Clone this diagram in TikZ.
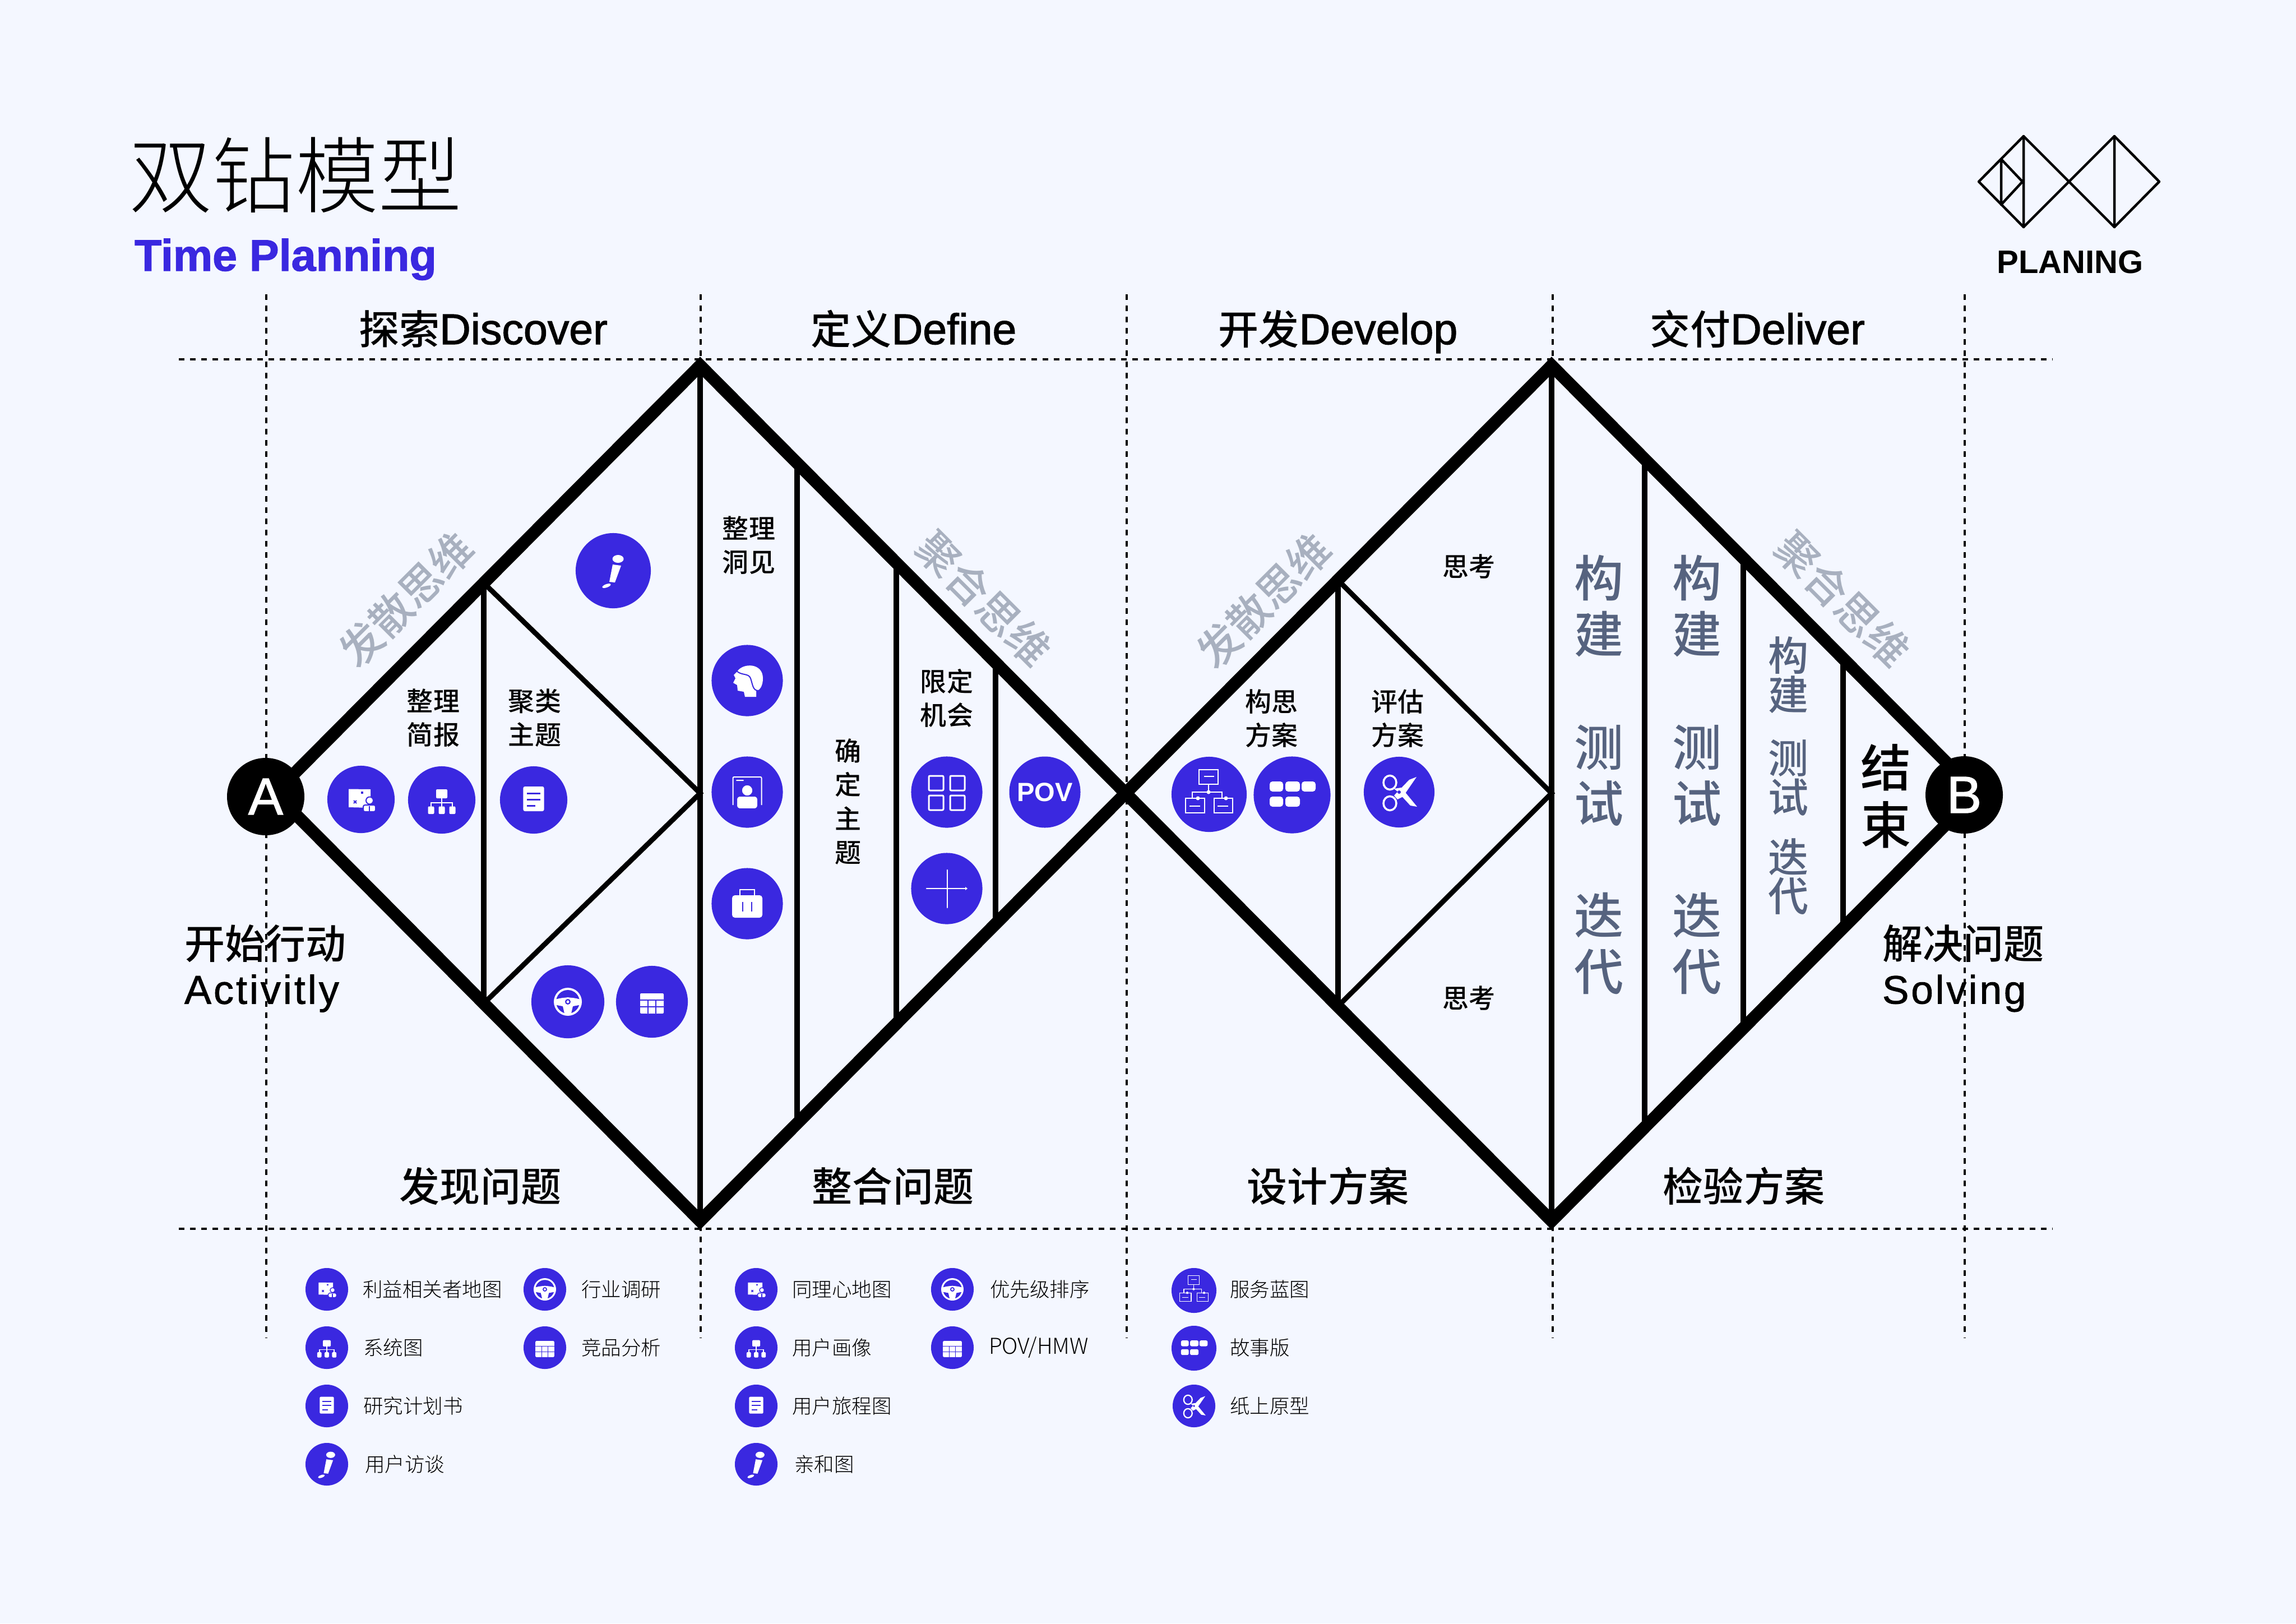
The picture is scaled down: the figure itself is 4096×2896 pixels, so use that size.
\documentclass[tikz,border=0pt]{standalone}
\usepackage{fontspec}
\setmainfont{Noto Sans CJK SC}
\IfFontExistsTF{Noto Sans CJK SC Medium}{\newfontfamily\med{Noto Sans CJK SC Medium}}{\newfontfamily\med[FakeBold=1.5]{Noto Sans CJK SC}}
\IfFontExistsTF{Noto Sans CJK SC Light}{\newfontfamily\lightf{Noto Sans CJK SC Light}}{\newfontfamily\lightf{Noto Sans CJK SC}}
\newfontfamily\lat{Liberation Sans}
\newfontfamily\latm[FakeBold=1.5]{Liberation Sans}
\newfontfamily\latw[LetterSpace=5.5,FakeBold=1.2]{Liberation Sans}
\definecolor{bgc}{HTML}{F4F7FF}
\definecolor{ic}{HTML}{3A28E0}
\definecolor{gry}{HTML}{A8B0BF}
\definecolor{slate}{HTML}{56637F}
\newcommand\fpx[2]{\pgfmathsetmacro\tmpfa{#1*0.2845}\pgfmathsetmacro\tmpfb{#2*0.2845}\fontsize{\tmpfa}{\tmpfb}\selectfont}
\def\isc{1}
\tikzset{
  x=0.01cm,y=-0.01cm,
  iw/.style={line width=#1*\isc*0.2845pt},
  rc/.style={rounded corners=#1*\isc*0.2845pt},
  thickd/.style={line width=22*0.2845pt,line join=miter,miter limit=10},
  midline/.style={line width=10*0.2845pt},
  thinline/.style={line width=9*0.2845pt},
  guide/.style={line width=4.5*0.2845pt,dash pattern=on 2.845pt off 2.845pt},
  lbl/.style={inner sep=0pt,outer sep=0pt,align=center},
  hdr/.style={lbl,font=\med\fpx{72}{80}},
  hbase/.style={hdr,anchor=base},
  smallb/.style={lbl,font=\med\fpx{47}{60}},
  bigtxt/.style={lbl,font=\med\fpx{88}{100},text=slate},
  midtxt/.style={lbl,font=\med\fpx{72}{54},text=slate},
  diverg/.style={lbl,font=\med\fpx{75}{80},text=gry},
  leg/.style={lbl,anchor=west,font=\lightf\fpx{35.5}{40}},
  circ/.style={circle,fill=ic,draw=none,inner sep=0pt,outer sep=0pt},
  badge/.style={circle,fill=black,draw=none,inner sep=0pt,outer sep=0pt,minimum size=138*0.01cm,text=white,font=\latm\fpx{93}{93}},
  logol/.style={line width=4.5*0.2845pt,line join=round,line cap=round},
  iorg/.pic={
    \fill[white,rc=2] (-10,-19) rectangle (10,-3);
    \draw[white,iw=2.6] (0,-3)--(0,13) (-19,13)--(-19,5)--(19,5)--(19,13);
    \foreach \a in {-19,0,19}{\fill[white,rc=2] (\a-5.5,11.5) rectangle (\a+5.5,25);}
  },
  idoc/.pic={
    \fill[white,rc=3] (-18.6,-24) rectangle (18.6,20);
    \draw[ic,iw=3] (-12,-12)--(12,-12) (-12,-1)--(12,-1) (-12,10)--(3,10);
  },
  imap/.pic={
    \fill[white] (-22,-18.5)--(17,-18)--(17,15)--(-22,14)--cycle;
    \draw[ic,iw=2] (-13,2)--(-8,7) (-8,2)--(-13,7);
    \fill[ic] (0,-14) rectangle (4,-10);
    \fill[white,draw=ic,iw=2,rc=3] (4,22)--(4,10)--(26,10)--(26,22)--cycle;
    \fill[white,draw=ic,iw=2] (15.5,2) circle[radius=6.5];
    \draw[ic,iw=2] (15,12)--(15,22);
  },
  imic/.pic={
    \fill[white] (8.6,-21) ellipse[x radius=10,y radius=7];
    \fill[white] (-1,-11)--(14,-9)--(3,21)--(-7,20)--cycle;
    \fill[white,rotate around={20:(-12,27)}] (-12,27) ellipse[x radius=8,y radius=3];
  },
  iwheel/.pic={
    \fill[white] (0,0) circle[radius=25];
    \fill[ic] (0,0) circle[radius=21];
    \begin{scope}
      \clip (0,0) circle[radius=22];
      \fill[white] (-25,-3) .. controls (-10,-9) and (10,-9) .. (25,-3) -- (25,5) -- (9,8) -- (5,25) -- (-5,25) -- (-9,8) -- (-25,5) -- cycle;
    \end{scope}
    \fill[white] (0,0) circle[radius=8];
    \fill[ic] (0,0) circle[radius=5];
    \fill[white] (0,0) circle[radius=2.5];
  },
  itable/.pic={
    \fill[white,rc=2] (-21,-15) rectangle (21,21);
    \draw[ic,iw=1.6] (-21,-3)--(21,-3) (-21,9)--(21,9) (-7,-3)--(-7,21) (7,-3)--(7,21);
  },
  ihead/.pic={
    \fill[white] (-18,-16) .. controls (-8,-32) and (28,-32) .. (28,-4) .. controls (28,10) and (22,18) .. (16,18) -- (16,29) -- (-4,29) -- (-6,20) -- (-17,18) -- (-18,8) -- (-25,4) -- (-21,-4) -- (-24,-10) -- cycle;
    \draw[ic,iw=2] (-20,-18) .. controls (-10,-8) and (2,-14) .. (6,-4) .. controls (10,8) and (10,18) .. (20,18);
  },
  iperson/.pic={
    \draw[white,iw=2,rc=2] (-25.5,23)--(-25.5,-27)--(25.5,-27)--(25.5,23);
    \fill[white,rc=1] (-20,-22) rectangle (-6,-20);
    \fill[white,draw=ic,iw=2,rc=6] (-19,30) rectangle (19,7);
    \fill[white,draw=ic,iw=1.5] (0,-3) circle[radius=10];
  },
  icase/.pic={
    \draw[white,iw=2.6] (-13,-14)--(-13,-25)--(13,-25)--(13,-14);
    \fill[white,rc=5] (-27,-15) rectangle (27,25);
    \draw[ic,iw=2.2] (-8,-3)--(-8,14) (8,-3)--(8,14);
  },
  igrid/.pic={
    \draw[white,iw=3,rc=2] (-32,-29) rectangle (-6,-3) (6,-29) rectangle (32,-3) (-32,6) rectangle (-6,32) (6,6) rectangle (32,32);
  },
  icross/.pic={
    \draw[white,iw=2.6,line cap=round] (1,-33)--(1,34) (-36,0)--(35,0);
    \fill[white] (33,-3)--(37,0)--(33,3)--cycle;
  },
  iblue/.pic={
    \draw[white,iw=2] (-18,-44) rectangle (16,-18) (-42,7) rectangle (-8.5,33) (8.5,7) rectangle (42,33);
    \draw[white,iw=2] (-9,-32)--(9,-32) (-35,21)--(-16,21) (15,21)--(34,21) (-1,-18)--(-1,-4) (-30,7)--(-30,-4)--(23,-4)--(23,7);
    \fill[white] (-1,-4) circle[radius=3.5] (-20,7) circle[radius=3.5] (30,7) circle[radius=3.5];
  },
  istory/.pic={
    \foreach \a/\b in {-40/-16,-12/14,17/42}{\fill[white,rc=5] (\a,-24) rectangle (\b,-6);}
    \foreach \a/\b in {-40/-16,-12/14}{\fill[white,rc=5] (\a,3) rectangle (\b,21);}
  },
  iscis/.pic={
    \draw[white,iw=3.5] (-16.5,-17) ellipse[x radius=11.5,y radius=12.5] (-16.5,20) ellipse[x radius=11.5,y radius=12.5];
    \fill[white] (-9,6)--(18,-22)--(31,-27)--(7,8)--(-3,13)--cycle;
    \fill[white] (-9,-6)--(4,-8)--(32,26)--(20,24)--(-3,-1)--cycle;
    \fill[ic] (0,0) circle[radius=3];
  }
}
% name, x, y, radius, icon, scale
\newcommand\icirc[6]{%
  \node[circ,minimum size=#4*0.02cm] (#1) at (#2,#3) {};
  \def\isc{#6}%
  \pic[scale=#6] at (#1.center) {#5};
}
\newcommand\lh[1]{{\latm\fpx{77}{80}#1}}
\begin{document}
\begin{tikzpicture}
\useasboundingbox (0,0) rectangle (4096,2896);
\fill[bgc] (0,0) rectangle (4096,2896);

% guide lines
\coordinate (hl1) at (319,641); \coordinate (hr1) at (3662,641);
\coordinate (hl2) at (319,2192); \coordinate (hr2) at (3662,2192);
\draw[guide] (hl1)--(hr1);
\draw[guide] (hl2)--(hr2);
\foreach \xx/\nm in {475/a,1250/b,2010/c,2770/d,3505/e}{
  \coordinate (vt\nm) at (\xx,525);
  \coordinate (vb\nm) at (\xx,2386);
  \draw[guide] (vt\nm)--(vb\nm);
}

% diamonds
\coordinate (L) at (490,1415);
\coordinate (T1) at (1249,652);
\coordinate (B1) at (1249,2178);
\coordinate (C) at (2008,1415);
\coordinate (T2) at (2768,652);
\coordinate (B2) at (2768,2178);
\coordinate (R) at (3527,1415);

% inner lines
\draw[thinline] (863,1040)--(T1 |- C) -- (863,1790);
\draw[midline] (863,1040)--(863,1790);
\draw[midline] (T1)--(B1);
\draw[midline] (1422,826)--(1422,2004);
\draw[midline] (1599,1004)--(1599,1826);
\draw[midline] (1776,1182)--(1776,1648);
\draw[thinline] (2387,1035)--(T2 |- C) -- (2387,1795);
\draw[midline] (2387,1035)--(2387,1795);
\draw[midline] (T2)--(B2);
\draw[midline] (2934,819)--(2934,2011);
\draw[midline] (3110,996)--(3110,1834);
\draw[midline] (3288,1175)--(3288,1655);
\draw[thickd] (L)--(T1)--(C)--(B1)--cycle;
\draw[thickd] (C)--(T2)--(R)--(B2)--cycle;

% badges
\node[badge] (A) at (474,1421) {A};
\node[badge] (Bn) at (3504,1418) {B};

% title
\node[lbl,font=\lightf\fpx{148}{148}] (title) at (527,312) {双钻模型};
\node[lbl,anchor=base west,text=ic,font=\latm\bfseries\fpx{79}{79}] (sub) at (240,483) {Time Planning};

% logo
\coordinate (gl) at (3530,324); \coordinate (gt1) at (3610,243); \coordinate (gb1) at (3610,405);
\coordinate (gc) at (3691,324); \coordinate (gt2) at (3772,243); \coordinate (gb2) at (3772,405);
\coordinate (gr) at (3852,324); \coordinate (gi1) at (3570,284); \coordinate (gi2) at (3570,365); \coordinate (gi3) at (3608,324);
\draw[logol] (gl)--(gt1)--(gc)--(gb1)--cycle;
\draw[logol] (gc)--(gt2)--(gr)--(gb2)--cycle;
\draw[logol] (gt1)--(gb1) (gt2)--(gb2) (gi1)--(gi2) (gi1)--(gi3)--(gi2);
\node[lbl,font=\lat\bfseries\fpx{58}{58}] (plan) at (3693,468) {PLANING};

% headers
\node[hbase] (h1) at (862,614) {探索\lh{Discover}};
\node[hbase] (h2) at (1630,614) {定义\lh{Define}};
\node[hbase] (h3) at (2387,614) {开发\lh{Develop}};
\node[hbase] (h4) at (3135,614) {交付\lh{Deliver}};
\node[hdr] (f1) at (857,2116) {发现问题};
\node[hdr] (f2) at (1593,2116) {整合问题};
\node[hdr] (f3) at (2369,2116) {设计方案};
\node[hdr] (f4) at (3111,2116) {检验方案};

% side labels
\node[hdr,anchor=west] (s1) at (329,1683) {开始行动};
\node[lbl,anchor=west,font=\latw\fpx{72}{72}] (s2) at (329,1772) {Activitly};
\node[hdr,anchor=west] (s3) at (3358,1683) {解决问题};
\node[lbl,anchor=west,font=\latw\fpx{71}{71}] (s4) at (3358,1772) {Solving};

% rotated
\node[diverg,rotate=45] (d1) at (724,1069) {发散思维};
\node[diverg,rotate=-45] (d2) at (1755,1068) {聚合思维};
\node[diverg,rotate=45] (d3) at (2254,1071) {发散思维};
\node[diverg,rotate=-45] (d4) at (3287,1069) {聚合思维};

% step labels
\node[smallb] (t1) at (773,1281) {整理\\简报};
\node[smallb] (t2) at (954,1281) {聚类\\主题};
\node[smallb] (t3) at (1336,973) {整理\\洞见};
\node[smallb] (t4) at (1513,1430) {确\\定\\主\\题};
\node[smallb] (t5) at (1689,1245) {限定\\机会};
\node[smallb] (t6) at (2268,1282) {构思\\方案};
\node[smallb] (t7) at (2493,1282) {评估\\方案};
\node[smallb] (t8) at (2620,1011) {思考};
\node[smallb] (t9) at (2620,1781) {思考};

% build-test-iterate
\foreach \xx/\nm in {2852/a,3027/b}{
  \node[bigtxt] (c1\nm) at (\xx,1081) {构\\建};
  \node[bigtxt] (c2\nm) at (\xx,1383) {测\\试};
  \node[bigtxt] (c3\nm) at (\xx,1683) {迭\\代};
}
\node[midtxt] (c1c) at (3190,1204) {构\\建};
\node[midtxt] (c2c) at (3190,1387) {测\\试};
\node[midtxt] (c3c) at (3190,1564) {迭\\代};
\node[lbl,font=\med\fpx{90}{102}] (endn) at (3364,1420) {结\\束};

% large icons
\icirc{k1}{1094}{1018}{67}{imic}{1}
\icirc{k2}{644}{1426}{60}{imap}{1}
\icirc{k3}{788}{1427}{60}{iorg}{1}
\icirc{k4}{952}{1427}{60}{idoc}{1}
\icirc{k5}{1013}{1787}{65}{iwheel}{1}
\icirc{k6}{1163}{1787}{64}{itable}{1}
\icirc{k7}{1333}{1214}{63.5}{ihead}{1}
\icirc{k8}{1333}{1413}{63.5}{iperson}{1}
\icirc{k9}{1333}{1612}{63.5}{icase}{1}
\icirc{k10}{1689}{1413}{63.5}{igrid}{1}
\icirc{k11}{1689}{1585}{63.5}{icross}{1}
\node[circ,minimum size=127*0.01cm,text=white,font=\lat\bfseries\fpx{47}{47}] (k12) at (1864,1413) {POV};
\icirc{k13}{2157}{1417}{67}{iblue}{1}
\icirc{k14}{2305}{1418}{68.5}{istory}{1}
\icirc{k15}{2496}{1413}{63}{iscis}{1}

% legend
\icirc{m1}{583}{2300}{38}{imap}{0.66}
\icirc{m2}{583}{2404}{38}{iorg}{0.7}
\icirc{m3}{583}{2508}{38}{idoc}{0.68}
\icirc{m4}{583}{2612}{38}{imic}{0.8}
\icirc{m5}{972}{2300}{38}{iwheel}{0.8}
\icirc{m6}{972}{2404}{38}{itable}{0.8}
\node[leg] (n1) at (647,2300) {利益相关者地图};
\node[leg] (n2) at (648,2404) {系统图};
\node[leg] (n3) at (648,2508) {研究计划书};
\node[leg] (n4) at (651,2612) {用户访谈};
\node[leg] (n5) at (1037,2300) {行业调研};
\node[leg] (n6) at (1037,2404) {竞品分析};
\icirc{m7}{1349}{2300}{38}{imap}{0.66}
\icirc{m8}{1349}{2404}{38}{iorg}{0.7}
\icirc{m9}{1349}{2508}{38}{idoc}{0.68}
\icirc{m10}{1349}{2612}{38}{imic}{0.8}
\icirc{m11}{1699}{2300}{38}{iwheel}{0.8}
\icirc{m12}{1699}{2404}{38}{itable}{0.8}
\node[leg] (n7) at (1413,2300) {同理心地图};
\node[leg] (n8) at (1413,2404) {用户画像};
\node[leg] (n9) at (1413,2508) {用户旅程图};
\node[leg] (n10) at (1417,2612) {亲和图};
\node[leg] (n11) at (1766,2300) {优先级排序};
\node[leg,font=\lightf\fpx{39}{40}] (n12) at (1764,2404) {POV/HMW};
\icirc{m13}{2130}{2302}{40}{iblue}{0.6}
\icirc{m14}{2130}{2405}{40}{istory}{0.58}
\icirc{m15}{2130}{2508}{38}{iscis}{0.65}
\node[leg] (n13) at (2194,2300) {服务蓝图};
\node[leg] (n14) at (2194,2404) {故事版};
\node[leg] (n15) at (2194,2508) {纸上原型};
\end{tikzpicture}
\end{document}
